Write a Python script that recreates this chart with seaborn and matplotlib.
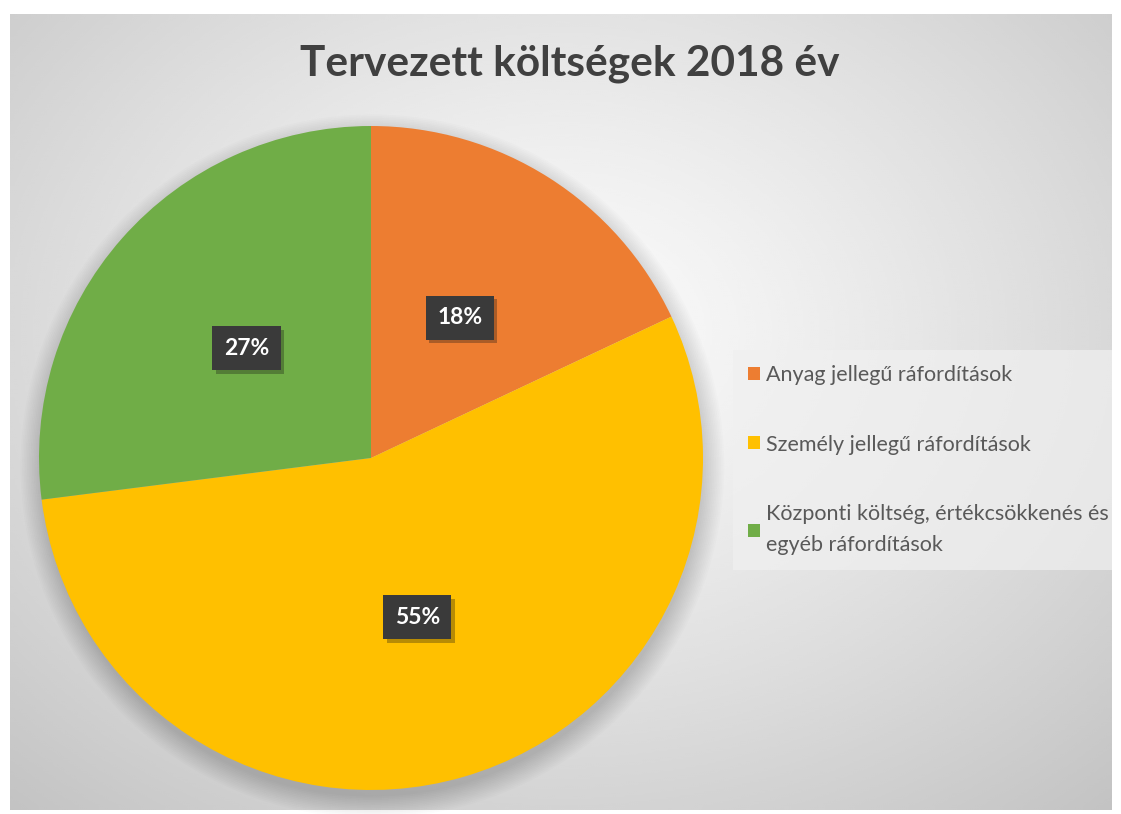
import numpy as np
import matplotlib
matplotlib.use("Agg")
import matplotlib.pyplot as plt
import matplotlib.patheffects as pe
import seaborn as sns

title = "Tervezett költségek 2018 év"
labels = ["Anyag jellegű ráfordítások",
          "Személy jellegű ráfordítások",
          "Központi költség, értékcsökkenés és\negyéb ráfordítások"]
shares = [18, 55, 27]
colors = ["#ED7D31", "#FFC000", "#70AD47"]

sns.set_theme(style="white")
plt.rcParams['font.family'] = ['Lato', 'DejaVu Sans']

W, H = 1121, 814
fig = plt.figure(figsize=(W / 100, H / 100), dpi=100)
fig.patch.set_facecolor("white")

# background: radial gradient panel
bg = fig.add_axes([10 / W, 1 - 810 / H, 1102 / W, 796 / H])
yy, xx = np.mgrid[0:1:400j, 0:1:550j]
d = np.sqrt(((xx - 0.5) / 0.75) ** 2 + ((yy - 0.40) / 0.8) ** 2)
grad = 0.985 - 0.22 * np.clip(d, 0, 1) ** 1.2
bg.imshow(grad, cmap="gray", vmin=0, vmax=1, extent=[0, 1, 0, 1],
          origin="upper", aspect="auto", interpolation="bicubic")
bg.set_axis_off()

# pie
cx, cy, r = 371, 458, 332
ax = fig.add_axes([(cx - r) / W, 1 - (cy + r) / H, 2 * r / W, 2 * r / H])
ax.set_axis_off()

# soft shadow under the pie
for k in range(14):
    ax.add_patch(plt.Circle((0.004, -0.025), 0.99 + 0.005 * (14 - k),
                            color="black", alpha=0.01, lw=0, zorder=0,
                            clip_on=False))

wedges, texts, autotexts = ax.pie(
    shares, colors=colors, startangle=90, counterclock=False,
    autopct=lambda p: f"{p:.0f}%", pctdistance=0.5, radius=1.0,
    wedgeprops=dict(linewidth=0), textprops=dict(color="white"))
for t in autotexts:
    t.set_fontsize(16.5)
    t.set_fontweight("bold")
    t.set_bbox(dict(boxstyle="square,pad=0.5", fc="#3a3a3a", ec="none"))
    t.get_bbox_patch().set_path_effects(
        [pe.SimplePatchShadow(offset=(2.5, -2.5), alpha=0.3), pe.Normal()])
ax.set_xlim(-1.0, 1.0)
ax.set_ylim(-1.0, 1.0)

# title
fig.text(570 / W, 1 - 64 / H, title, ha="center", va="center",
         fontsize=30.5, fontweight="bold", color="#404040")

# legend
leg = fig.legend(wedges, labels, loc="upper left",
                 bbox_to_anchor=(733 / W, 1 - 350 / H, (1112 - 733) / W, 0),
                 mode="expand",
                 fontsize=15.5, frameon=True, labelcolor="#595959",
                 handlelength=0.55, handleheight=0.55, handletextpad=0.3,
                 labelspacing=2.3, borderpad=0.7, borderaxespad=0,
                 fancybox=False)
for t in leg.get_texts():
    t.set_linespacing(1.7)
leg.get_frame().set_facecolor("#f0f0f0")
leg.get_frame().set_alpha(0.7)
leg.get_frame().set_edgecolor("none")

fig.savefig("out.png", dpi=100, facecolor="white")
